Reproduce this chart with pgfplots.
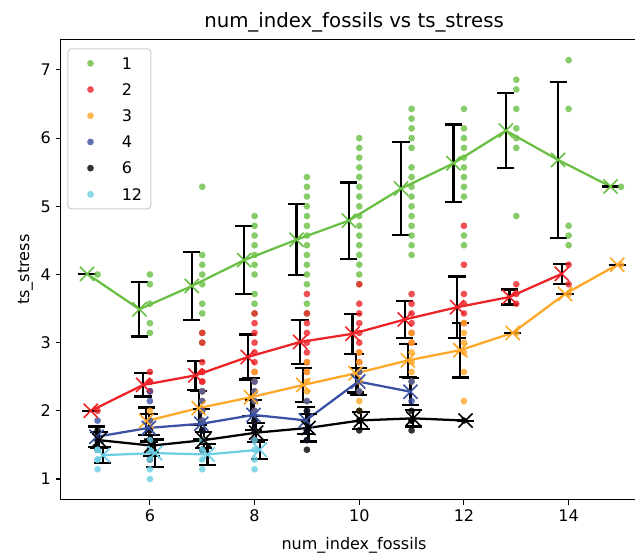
\documentclass[border=0pt]{standalone}
\usepackage{fontspec}
\setmainfont{DejaVu Sans}
\usepackage{pgfplots}
\pgfplotsset{compat=1.18}
\usetikzlibrary{calc}
\definecolor{cg}{HTML}{6ABF45}
\definecolor{cr}{HTML}{EE2328}
\definecolor{co}{HTML}{FFA726}
\definecolor{cb}{HTML}{3B51A3}
\definecolor{ck}{HTML}{000000}
\definecolor{cc}{HTML}{6CCEE2}
\pgfplotsset{
  dots/.style={only marks, mark=*, mark size=2.4pt, mark options={draw=#1, fill=#1, line width=0.1pt, opacity=0.8},
    legend image code/.code={\node[anchor=center, draw=none, fill=none, inner sep=0pt, minimum width=25pt, minimum height=2pt, text height=0pt, text depth=0pt] at (0pt,0pt) {}; \draw[##1] plot coordinates {(0pt,0pt)};}},
  mline/.style={#1, line width=1.7pt, mark=x, mark size=7.5pt, mark options={line width=1.2pt, solid},
    error bars/y dir=both, error bars/y explicit,
    error bars/error bar style={black, line width=1.6pt},
    error bars/error mark options={black, line width=1.6pt, mark size=6.5pt, rotate=90}},
}
\begin{document}
\begin{tikzpicture}
\begin{axis}[
  scale only axis, width=440.5pt, height=345.5pt,
  xmin=4.29, xmax=15.51, ymin=0.693, ymax=7.449,
  xtick={6,8,10,12,14}, ytick={1,2,3,4,5,6,7},
  tick align=outside, major tick length=3.6pt,
  xtick pos=bottom, ytick pos=left,
  tick style={black, line width=0.8pt},
  axis line style={black, line width=0.8pt},
  ticklabel style={font=\fontsize{12}{14}\selectfont},
  /pgf/number format/assume math mode=true,
  every axis title shift=0pt,
  title={num\_index\_fossils vs ts\_stress},
  title style={at={(axis description cs:0.5,1.0252)}, anchor=base, font=\fontsize{14.8}{17}\selectfont},
  xlabel={num\_index\_fossils},
  xlabel style={at={(axis description cs:0.5,-0.1085)}, anchor=base, font=\fontsize{12}{14}\selectfont},
  ylabel={ts\_stress},
  ylabel style={at={(axis description cs:-0.0533,0.5)}, anchor=base, rotate=0, font=\fontsize{12}{14}\selectfont},
  legend style={at={(axis description cs:0.0118,0.9805)}, anchor=north west,
    draw=black!20, line width=0.75pt, rounded corners=2.5pt, fill=white,
    inner xsep=4.5pt, inner ysep=4.7pt, row sep=7.25pt,
    font=\fontsize{12}{14}\selectfont,
    nodes={text height=8.6pt, text depth=0pt, inner ysep=1.9pt, inner xsep=2pt},
    /tikz/every odd column/.append style={column sep=9pt}},
  legend cell align=left,
]
% ---------- scatter points ----------
\addplot[dots=cg] coordinates {
(5,4.0)
(6,4.0)(6,3.857)(6,3.571)(6,3.286)(6,3.143)
(7,5.286)(7,4.286)(7,4.143)(7,4.0)(7,3.857)(7,3.571)(7,3.429)(7,3.143)(7,3.0)
(8,4.857)(8,4.714)(8,4.571)(8,4.429)(8,4.286)(8,4.143)(8,4.0)(8,3.714)(8,3.571)(8,3.429)
(9,5.429)(9,5.286)(9,5.143)(9,5.0)(9,4.857)(9,4.714)(9,4.571)(9,4.429)(9,4.286)(9,4.143)(9,4.0)(9,3.857)(9,3.571)(9,3.429)
(10,6.0)(10,5.857)(10,5.714)(10,5.571)(10,5.429)(10,5.286)(10,5.143)(10,5.0)(10,4.857)(10,4.714)(10,4.571)(10,4.429)(10,4.286)(10,4.143)(10,4.0)(10,3.857)
(11,6.429)(11,6.286)(11,6.143)(11,6.0)(11,5.857)(11,5.571)(11,5.429)(11,5.286)(11,5.143)(11,5.0)(11,4.857)(11,4.714)(11,4.571)(11,4.429)(11,4.286)
(12,6.429)(12,6.143)(12,6.0)(12,5.857)(12,5.714)(12,5.571)(12,5.429)(12,5.286)(12,5.143)(12,4.571)(12,4.429)
(13,6.857)(13,6.714)(13,6.429)(13,6.143)(13,6.0)(13,5.857)(13,4.857)
(14,7.143)(14,6.429)(14,4.714)(14,4.571)(14,4.429)
(15,5.286)
};
\addlegendentry{1}
\addplot[dots=cr] coordinates {
(5,2.0)
(6,2.571)(6,2.429)(6,2.429)(6,2.286)(6,2.286)
(7,3.143)(7,3.0)(7,2.714)(7,2.571)(7,2.571)(7,2.429)(7,2.429)(7,2.286)
(8,3.429)(8,3.286)(8,3.143)(8,3.0)(8,2.857)(8,2.714)(8,2.571)(8,2.429)
(9,3.714)(9,3.429)(9,3.286)(9,3.143)(9,3.0)(9,2.857)(9,2.714)(9,2.571)
(10,3.857)(10,3.571)(10,3.429)(10,3.286)(10,3.143)(10,3.0)(10,2.857)(10,2.714)
(11,3.714)(11,3.571)(11,3.429)(11,3.286)(11,3.143)(11,3.0)
(12,4.714)(12,4.143)(12,3.714)(12,3.571)(12,3.429)(12,3.286)
(13,3.857)(13,3.714)(13,3.571)
(14,4.143)(14,3.857)
};
\addlegendentry{2}
\addplot[dots=co] coordinates {
(6,2.0)(6,1.857)(6,1.714)
(7,2.286)(7,2.143)(7,2.0)(7,1.857)
(8,2.571)(8,2.429)(8,2.286)(8,2.143)(8,2.0)(8,1.857)
(9,2.714)(9,2.571)(9,2.429)(9,2.286)(9,2.143)
(10,2.857)(10,2.714)(10,2.571)(10,2.429)(10,2.286)(10,2.143)(10,2.0)
(11,3.143)(11,3.0)(11,2.857)(11,2.714)(11,2.571)(11,2.429)
(12,3.286)(12,3.143)(12,3.0)(12,2.857)(12,2.571)(12,2.143)
(13,3.143)(14,3.714)(15,4.143)
};
\addlegendentry{3}
\addplot[dots=cb] coordinates {
(5,1.857)(5,1.571)(5,1.571)(5,1.429)
(6,2.286)(6,2.143)(6,1.857)(6,1.714)(6,1.571)(6,1.571)(6,1.429)
(7,2.286)(7,2.143)(7,2.0)(7,1.857)(7,1.714)(7,1.571)(7,1.571)(7,1.429)
(8,2.429)(8,2.286)(8,2.143)(8,2.0)(8,1.857)(8,1.714)(8,1.571)
(9,2.143)(9,2.0)(9,1.857)(9,1.714)(9,1.571)
(10,2.571)(10,2.286)
(11,2.429)(11,2.143)
};
\addlegendentry{4}
\addplot[dots=ck] coordinates {
(5,1.714)(5,1.571)(5,1.429)
(6,1.714)(6,1.571)(6,1.429)(6,1.429)(6,1.286)
(7,1.714)(7,1.571)(7,1.571)(7,1.429)
(8,1.857)(8,1.714)(8,1.571)(8,1.571)
(9,2.0)(9,1.857)(9,1.857)(9,1.714)(9,1.571)(9,1.429)
(10,2.0)(10,1.857)(10,1.857)(10,1.714)
(11,2.0)(11,1.857)(11,1.857)(11,1.714)
(12,1.857)
};
\addlegendentry{6}
\addplot[dots=cc] coordinates {
(5,1.429)(5,1.429)(5,1.286)(5,1.286)(5,1.143)
(6,1.571)(6,1.429)(6,1.429)(6,1.286)(6,1.143)(6,1.0)
(7,1.571)(7,1.429)(7,1.286)(7,1.143)
(8,1.571)(8,1.429)(8,1.286)(8,1.143)
};
\addlegendentry{12}
% ---------- mean lines with error bars ----------
\addplot[mline=cg, forget plot] table[x=x, y=y, y error=e] {
x y e
4.8 4.01 0
5.8 3.49 0.40
6.8 3.83 0.50
7.8 4.21 0.50
8.8 4.51 0.52
9.8 4.79 0.56
10.8 5.26 0.68
11.8 5.63 0.57
12.8 6.11 0.55
13.8 5.68 1.14
14.8 5.29 0
};
\addplot[mline=cr, forget plot] table[x=x, y=y, y error=e] {
x y e
4.87 2.0 0
5.87 2.38 0.17
6.87 2.52 0.21
7.87 2.79 0.33
8.87 3.01 0.32
9.87 3.13 0.29
10.87 3.34 0.27
11.87 3.52 0.45
12.87 3.67 0.11
13.87 4.01 0.15
};
\addplot[mline=co, forget plot] table[x=x, y=y, y error=e] {
x y e
5.93 1.85 0.20
6.93 2.04 0.25
7.93 2.20 0.28
8.93 2.38 0.25
9.93 2.55 0.28
10.93 2.74 0.24
11.93 2.89 0.40
12.93 3.143 0
13.93 3.714 0
14.93 4.143 0
};
\addplot[mline=cb, forget plot] table[x=x, y=y, y error=e] {
x y e
4.98 1.62 0.15
5.98 1.75 0.20
6.98 1.81 0.22
7.98 1.94 0.22
8.98 1.86 0.20
9.98 2.43 0.20
10.98 2.28 0.20
};
\addplot[mline=ck, forget plot] table[x=x, y=y, y error=e] {
x y e
5.03 1.57 0.12
6.03 1.49 0.15
7.03 1.57 0.12
8.03 1.68 0.14
9.03 1.75 0.20
10.03 1.86 0.12
11.03 1.89 0.12
12.03 1.857 0
};
\addplot[mline=cc, forget plot] table[x=x, y=y, y error=e] {
x y e
5.1 1.35 0.12
6.1 1.38 0.20
7.1 1.36 0.15
8.1 1.43 0.14
};
\end{axis}
\pgfresetboundingbox
\path[use as bounding box] ($(current axis.south west)+(-45.3pt,-41.25pt)$) rectangle ($(current axis.north east)+(-9.5pt,29.5pt)$);
\end{tikzpicture}
\end{document}
